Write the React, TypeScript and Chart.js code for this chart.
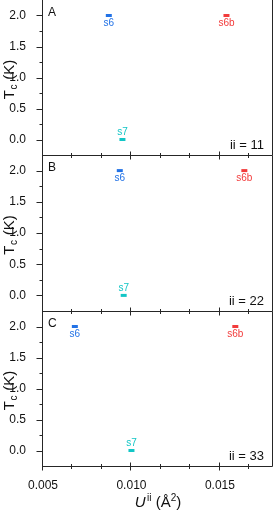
import React, { useEffect, useRef } from "react";
import { Chart, registerables } from "chart.js";
Chart.register(...registerables);

// ---- data ----
const samples = ["s6", "s6b", "s7"];
const sampleColors = ["#2272e6", "#f23b3b", "#12c6c6"];
const labelPlacement = ["below", "below", "above"];
const panelLetters = ["A", "B", "C"];
const panelIi = ["11", "22", "33"];
const uA = [0.00872, 0.01537, 0.00949];
const uB = [0.00934, 0.01638, 0.00956];
const uC = [0.0068, 0.01587, 0.01];
const tcA = [2.0, 2.0, 0.0];
const tcB = [2.0, 2.0, 0.0];
const tcC = [2.0, 2.0, 0.0];
const xMajorTicks = [0.005, 0.01, 0.015];
const xMinorTicks = [0.006667, 0.008333, 0.011667, 0.013333, 0.016667];
const yMajorTicks = [0, 0.5, 1.0, 1.5, 2.0];
const yMinorTicks = [0.25, 0.75, 1.25, 1.75];
const xMin = 0.005;
const xMax = 0.018;
const yMin = -0.25;
const yMax = 2.25;

const panelU = [uA, uB, uC];
const panelTc = [tcA, tcB, tcC];

// ---- layout ----
const W = 275;
const H = 510;
const panelTops = [0, 155, 311];
const panelBottoms = [155, 311, 466];
const FAM = '"Liberation Sans", Arial, sans-serif';
const LINE = "#262626";
const TEXT = "#111111";

function makeDecor(idx: number, isBottom: boolean) {
  return {
    id: "decor" + idx,
    afterDatasetsDraw(chart: any) {
      const ctx = chart.ctx as CanvasRenderingContext2D;
      const a = chart.chartArea;
      const xs = chart.scales.x;
      const ys = chart.scales.y;
      ctx.save();
      // frame
      const L = Math.round(a.left) - 0.5;
      const R = Math.round(a.right) - 0.5;
      const B = Math.round(a.bottom) + 0.5;
      const T = Math.round(a.top) + 0.5;
      ctx.strokeStyle = LINE;
      ctx.lineWidth = 1;
      ctx.beginPath();
      ctx.moveTo(L, idx === 0 ? 0 : T);
      ctx.lineTo(L, B);
      ctx.lineTo(R, B);
      ctx.lineTo(R, idx === 0 ? 0 : T);
      ctx.stroke();
      // x ticks (crossing bottom line)
      ctx.beginPath();
      xMajorTicks.forEach((v) => {
        const px = Math.round(xs.getPixelForValue(v)) - 0.5;
        ctx.moveTo(px, B - 4);
        ctx.lineTo(px, B + 4);
      });
      xMinorTicks.forEach((v) => {
        const px = Math.round(xs.getPixelForValue(v)) - 0.5;
        ctx.moveTo(px, B - 2.5);
        ctx.lineTo(px, B + 2.5);
      });
      // y ticks (outward)
      yMajorTicks.forEach((v) => {
        const py = Math.round(ys.getPixelForValue(v)) + 0.5;
        ctx.moveTo(L - 6, py);
        ctx.lineTo(L, py);
      });
      yMinorTicks.forEach((v) => {
        const py = Math.round(ys.getPixelForValue(v)) + 0.5;
        ctx.moveTo(L - 3, py);
        ctx.lineTo(L, py);
      });
      ctx.stroke();

      // point labels
      const meta = chart.getDatasetMeta(0);
      ctx.font = `10px ${FAM}`;
      ctx.textAlign = "center";
      ctx.textBaseline = "middle";
      meta.data.forEach((pt: any, i: number) => {
        ctx.fillStyle = sampleColors[i];
        const dy = labelPlacement[i] === "below" ? 8 : -7.5;
        ctx.fillText(samples[i], pt.x, pt.y + dy);
      });

      // panel letter
      ctx.fillStyle = TEXT;
      ctx.textAlign = "left";
      ctx.textBaseline = "alphabetic";
      ctx.font = `12px ${FAM}`;
      ctx.fillText(panelLetters[idx], a.left + 5, a.top + 15.5);
      // ii label
      ctx.font = `13px ${FAM}`;
      ctx.textAlign = "right";
      ctx.fillText("ii = " + panelIi[idx], a.right - 9, a.bottom - 6);

      // y title  T_c (K)
      ctx.save();
      ctx.translate(13.5, (a.top + a.bottom) / 2 + 2);
      ctx.rotate(-Math.PI / 2);
      const big = `15px ${FAM}`;
      const small = `10px ${FAM}`;
      ctx.font = big;
      const wT = ctx.measureText("T").width;
      const wRest = ctx.measureText(" (K)").width;
      ctx.font = small;
      const wc = ctx.measureText("c").width;
      const x0 = -(wT + wc + 1 + wRest) / 2;
      ctx.textAlign = "left";
      ctx.textBaseline = "alphabetic";
      ctx.font = big;
      ctx.fillText("T", x0, 0);
      ctx.font = small;
      ctx.fillText("c", x0 + wT + 0.5, 3);
      ctx.font = big;
      ctx.fillText(" (K)", x0 + wT + wc + 1, 0);
      ctx.restore();

      // x title
      if (isBottom) {
        const parts: [string, string, number, number][] = [
          ["U", `italic 15px ${FAM}`, 0, 1.5],
          ["ii", `10px ${FAM}`, -6, 0],
          [" (Å", `15px ${FAM}`, 0, 0],
          ["2", `10px ${FAM}`, -6, 0],
          [")", `15px ${FAM}`, 0, 0],
        ];
        let total = 0;
        parts.forEach(([s, f, , g]) => {
          ctx.font = f;
          total += ctx.measureText(s).width + g;
        });
        let x = (a.left + a.right) / 2 - total / 2;
        ctx.textAlign = "left";
        ctx.textBaseline = "alphabetic";
        ctx.fillStyle = TEXT;
        parts.forEach(([s, f, dy, g]) => {
          ctx.font = f;
          ctx.fillText(s, x, 506.5 + dy);
          x += ctx.measureText(s).width + g;
        });
      }
      ctx.restore();
    },
  };
}

function Panel({ idx }: { idx: number }) {
  const ref = useRef<HTMLCanvasElement | null>(null);
  useEffect(() => {
    if (!ref.current) return;
    const isBottom = idx === 2;
    const us = panelU[idx];
    const tcs = panelTc[idx];
    const chart = new Chart(ref.current, {
      type: "scatter",
      data: {
        datasets: [
          {
            data: us.map((u, i) => ({ x: u, y: tcs[i] })),
            pointStyle: "line",
            pointRadius: 3,
            pointHoverRadius: 3,
            pointBorderWidth: 3,
            pointBorderColor: sampleColors,
            pointBackgroundColor: sampleColors,
            showLine: false,
          } as any,
        ],
      },
      options: {
        animation: false,
        responsive: false,
        devicePixelRatio: 1,
        events: [],
        layout: {
          autoPadding: false,
          padding: {
            top: panelTops[idx],
            bottom: isBottom ? 0 : H - panelBottoms[idx],
            left: 0,
            right: 2,
          },
        },
        plugins: {
          legend: { display: false },
          tooltip: { enabled: false },
        },
        scales: {
          x: {
            type: "linear",
            min: xMin,
            max: xMax,
            display: isBottom,
            grid: { display: false },
            border: { display: false },
            ticks: {
              stepSize: 0.005,
              autoSkip: false,
              maxRotation: 0,
              padding: 4,
              color: TEXT,
              font: { size: 12, family: FAM },
              callback: (v: any) => {
                const k = Number(v) / 0.005;
                return Math.abs(k - Math.round(k)) < 1e-6 ? Number(v).toFixed(3) : "";
              },
            },
            afterFit: (s: any) => {
              s.height = isBottom ? H - panelBottoms[idx] : 0;
              s.paddingLeft = 0;
              s.paddingRight = 0;
            },
          },
          y: {
            type: "linear",
            min: yMin,
            max: yMax,
            grid: { display: false },
            border: { display: false },
            ticks: {
              stepSize: 0.25,
              autoSkip: false,
              padding: 9,
              color: TEXT,
              font: { size: 12, family: FAM },
              callback: (v: any) => {
                const k = Number(v) * 2;
                return Math.abs(k - Math.round(k)) < 1e-6 ? Number(v).toFixed(1) : "";
              },
            },
            afterFit: (s: any) => {
              s.width = 43;
              s.paddingTop = 0;
              s.paddingBottom = 0;
            },
          },
        },
      },
      plugins: [makeDecor(idx, isBottom)],
    });
    return () => chart.destroy();
  }, [idx]);
  return (
    <canvas
      ref={ref}
      width={W}
      height={H}
      style={{ position: "absolute", left: 0, top: 0, width: W, height: H, display: "block" }}
    />
  );
}

export default function App() {
  return (
    <div style={{ position: "fixed", left: 0, top: 0, width: W, height: H, background: "#fff" }}>
      <Panel idx={0} />
      <Panel idx={1} />
      <Panel idx={2} />
    </div>
  );
}
